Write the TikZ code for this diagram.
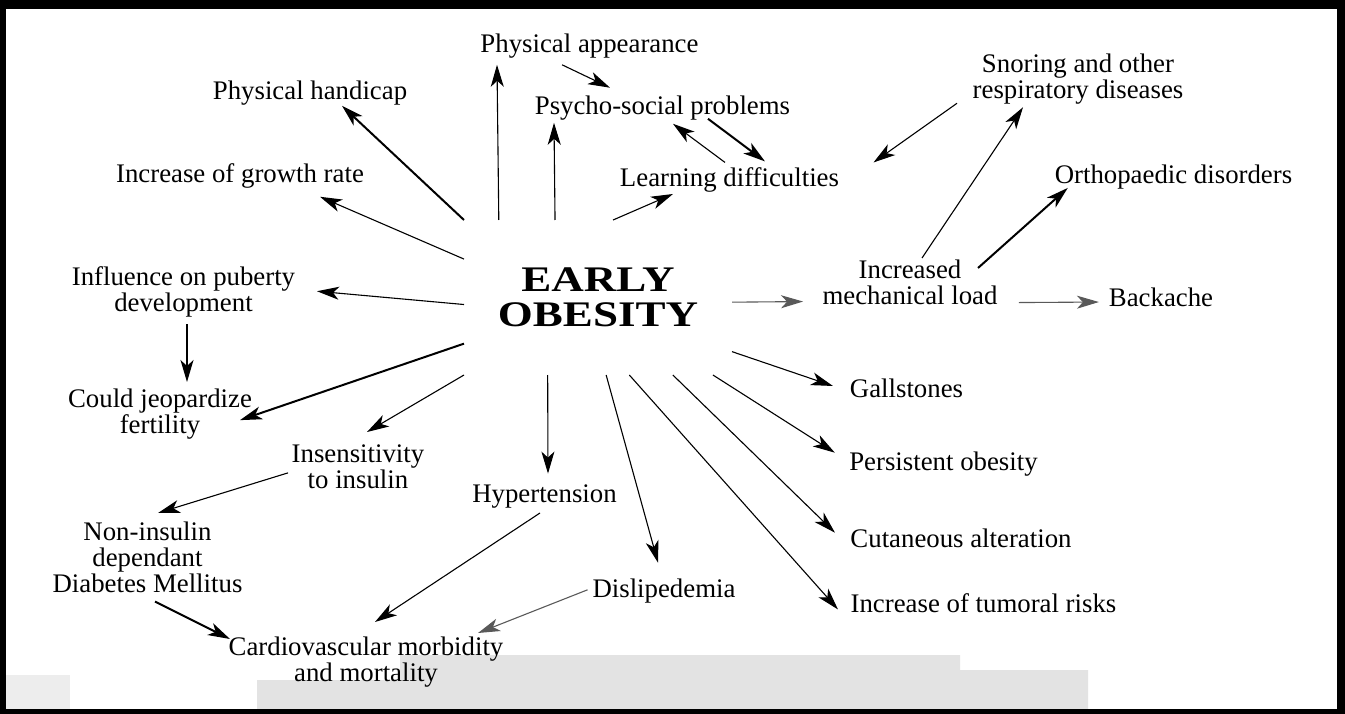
\documentclass[tikz,border=0pt]{standalone}
\usepackage{fontspec}
\setmainfont{Liberation Serif}
\usepackage{graphicx}
\usetikzlibrary{arrows.meta}
\begin{document}
\begin{tikzpicture}[x=1pt,y=-1pt,
  lbl/.style={inner sep=0pt, outer sep=0pt, font=\fontsize{26.8}{26}\selectfont, align=center},
  arr/.style={line width=1.1pt, -{Stealth[length=22pt,width=13pt,inset=6pt]}},
  arrthick/.style={arr, line width=2pt},
  arrgray/.style={arr, color=black!65},
  band/.style={fill=black!11, draw=none},
  frame/.style={fill=black, draw=none}]
\useasboundingbox (0,0) rectangle (1345,714);
% scanned grey band at the bottom
\fill[band] (257,680) -- (400,680) -- (400,655) -- (960,655) -- (960,670) -- (1088,670) -- (1088,709) -- (257,709) -- cycle;
\fill[band, fill=black!7] (6,675) rectangle (70,709);
% frame
\fill[frame] (0,0) rectangle (1345,9);
\fill[frame] (0,0) rectangle (6,714);
\fill[frame] (1337,0) rectangle (1345,714);
\fill[frame] (0,709) rectangle (1345,714);

% centre
\node[inner sep=0pt, outer sep=0pt, minimum width=268pt, minimum height=155pt, align=center,
      font=\fontsize{36}{35}\selectfont\bfseries] (eo) at (598,297.5)
      {\scalebox{1.25}[1]{EARLY}\\\scalebox{1.25}[1]{OBESITY}};

% labels
\node[lbl, anchor=base] (phh) at (310,100) {Physical handicap};
\node[lbl, anchor=base] (igr) at (240,183) {Increase of growth rate};
\node[lbl, anchor=base] (phapp) at (589.5,53) {Physical appearance};
\node[lbl, anchor=base] (psy) at (662.5,115) {Psycho-social problems};
\node[lbl, anchor=base] (lrn) at (729.5,187) {Learning difficulties};
\node[lbl, anchor=north] (snr) at (1078,53.7) {Snoring and other\\respiratory diseases};
\node[lbl, anchor=base] (ort) at (1173.5,184) {Orthopaedic disorders};
\node[lbl, anchor=north] (iml) at (910,259.7) {Increased\\mechanical load};
\node[lbl, anchor=base] (bck) at (1161,306) {Backache};
\node[lbl, anchor=base] (gal) at (906.5,397) {Gallstones};
\node[lbl, anchor=base] (per) at (943.5,470) {Persistent obesity};
\node[lbl, anchor=base] (cut) at (961,547) {Cutaneous alteration};
\node[lbl, anchor=base] (tum) at (983.5,612) {Increase of tumoral risks};
\node[lbl, anchor=base] (dis) at (664,597) {Dislipedemia};
\node[lbl, anchor=base] (hyp) at (544.5,502) {Hypertension};
\node[lbl, anchor=north] (cvd) at (366,636.7) {Cardiovascular morbidity\\and mortality};
\node[lbl, anchor=north] (dia) at (147.5,521.7) {Non-insulin\\dependant\\Diabetes Mellitus};
\node[lbl, anchor=north] (ins) at (358,444.7) {Insensitivity\\to insulin};
\node[lbl, anchor=north] (cjf) at (160,388.7) {Could jeopardize\\fertility};
\node[lbl, anchor=north] (inf) at (183.5,266.7) {Influence on puberty\\development};

% connectors
\draw[arrthick] (eo.north west) -- ([shift={(32,0)}]phh.south);
\draw[arr] (eo.164.4) -- ([shift={(80,8)}]igr.south);
\draw[arr] (eo.142.5) -- ([shift={(-92.5,6)}]phapp.south);
\draw[arr] (eo.119.6) -- ([shift={(-108.5,2)}]psy.south);
\draw[arr] ([shift={(-27.5,6)}]phapp.south) -- ([shift={(-52.5,-8.7)}]psy.north);
\draw[arr] ([shift={(-4.5,-5.7)}]lrn.north) -- ([shift={(10.5,3)}]psy.south);
\draw[arrthick] ([shift={(45.5,-2)}]psy.south) -- ([shift={(35.5,-6.7)}]lrn.north);
\draw[arr] (eo.79) -- ([shift={(-56.5,1.2)}]lrn.south);
\draw[arr] ([shift={(-15.7,-0.8)}]snr.south west) -- ([shift={(34.5,-5.7)}]lrn.north east);
\draw[arr] ([shift={(12,-1.7)}]iml.north) -- ([shift={(-55,3.2)}]snr.south);
\draw[arrthick] ([shift={(68,8.3)}]iml.north) -- ([shift={(13,-1.8)}]ort.south west);
\draw[arr] (eo.183.2) -- ([shift={(21.9,-0.75)}]inf.east);
\draw[arr] ([shift={(3.5,7.2)}]inf.south) -- ([shift={(27,-6.7)}]cjf.north);
\draw[arrthick] (eo.199.5) -- ([shift={(-11.9,6.25)}]cjf.east);
\draw[arr] (eo.south west) -- ([shift={(9,-12.7)}]ins.north);
\draw[arr] ([shift={(-3.7,6.15)}]ins.west) -- ([shift={(10.5,-8.7)}]dia.north);
\draw[arrthick] ([shift={(7.5,9)}]dia.south) -- ([shift={(1.3,2.3)}]cvd.north west);
\draw[arr] ([shift={(-4.5,5.2)}]hyp.south) -- ([shift={(9,-14.7)}]cvd.north);
\draw[arrgray] ([shift={(-5,-0.75)}]dis.west) -- ([shift={(-25.3,-3.7)}]cvd.north east);
\draw[arr] (eo.276.6) -- ([shift={(-6,-15.7)}]dis.north);
\draw[arr] (eo.292.4) -- ([shift={(-12.7,16.3)}]tum.north west);
\draw[arr] (eo.314.4) -- ([shift={(-15.5,4.3)}]cut.north west);
\draw[arr] (eo.326.9) -- ([shift={(-14.5,1.3)}]per.north west);
\draw[arr] (eo.338.2) -- ([shift={(-17,-1.85)}]gal.west);
\draw[arrgray] (eo.358.5) -- ([shift={(-19.5,-3)}]iml.south west);
\draw[arrgray] ([shift={(21.5,-2)}]iml.south east) -- ([shift={(-10,5.2)}]bck.west);
\draw[arr] (eo.237.2) -- ([shift={(3.5,-10.7)}]hyp.north);
\end{tikzpicture}
\end{document}
